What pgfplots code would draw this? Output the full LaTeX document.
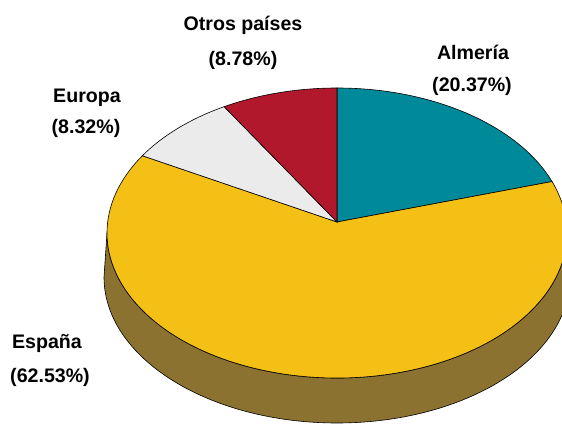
\documentclass[border=0pt]{standalone}
\usepackage{pgfplots}
\pgfplotsset{compat=1.18}
\usepackage{fontspec}
\setmainfont{Liberation Sans}
\definecolor{cAlm}{RGB}{0,137,153}
\definecolor{cEsp}{RGB}{244,192,21}
\definecolor{cEspSide}{RGB}{140,114,48}
\definecolor{cEur}{RGB}{235,235,235}
\definecolor{cOtr}{RGB}{178,24,43}
% boundary of a slice: true angle #1 -> parametric angle on the drawn (perspective) ellipse
\newcommand\bnd[2]{%
  \pgfmathsetmacro\tX{cos(#1)}\pgfmathsetmacro\tY{sin(#1)}%
  \pgfmathsetmacro\tD{1+0.0759*\tY}%
  \pgfmathsetmacro\tpx{337+229.3*\tX/\tD}%
  \pgfmathsetmacro\tpy{(222-127.3*\tY)/\tD}%
  \pgfmathsetmacro\tt{atan2((233-\tpy)/145,(\tpx-337)/230)}%
  \expandafter\xdef\csname #2t\endcsname{\tt}%
}
\begin{document}
\begin{tikzpicture}
% data (percent)
\def\vAlm{20.37}
\def\vEsp{62.53}
\def\vEur{8.32}
\def\vOtr{8.78}
\pgfmathsetmacro{\aA}{90}
\pgfmathsetmacro{\aB}{\aA-3.6*\vAlm}
\pgfmathsetmacro{\aC}{\aB-3.6*\vEsp}
\pgfmathsetmacro{\aD}{\aC-3.6*\vEur}
\bnd{\aA}{bA}\bnd{\aB}{bB}\bnd{\aC}{bC}\bnd{\aD}{bD}
\pgfmathsetmacro{\eB}{ifthenelse(\bBt>\bAt,\bBt-360,\bBt)}
\pgfmathsetmacro{\eC}{ifthenelse(\bCt>\bBt,\bCt-360,\bCt)}
\pgfmathsetmacro{\eD}{ifthenelse(\bDt>\bCt,\bDt-360,\bDt)}
\pgfmathsetmacro{\eA}{ifthenelse(\bAt>\bDt,\bAt-360,\bAt)}
\def\cx{337}\def\cy{192}\def\ax{337}\def\ay{203}
\def\rx{230}\def\ry{145}\def\dep{44}
\def\brx{233}\def\bry{146}
\pgfmathsetmacro{\pAx}{\cx+\rx*cos(\bAt)}\pgfmathsetmacro{\pAy}{\cy+\ry*sin(\bAt)}
\pgfmathsetmacro{\pBx}{\cx+\rx*cos(\bBt)}\pgfmathsetmacro{\pBy}{\cy+\ry*sin(\bBt)}
\pgfmathsetmacro{\pCx}{\cx+\rx*cos(\bCt)}\pgfmathsetmacro{\pCy}{\cy+\ry*sin(\bCt)}
\pgfmathsetmacro{\pDx}{\cx+\rx*cos(\bDt)}\pgfmathsetmacro{\pDy}{\cy+\ry*sin(\bDt)}
\clip (0,0) rectangle (562pt,425pt);
\begin{axis}[x=1pt,y=1pt,xmin=0,xmax=562,ymin=0,ymax=425,hide axis,clip=false,anchor=origin,at={(0,0)}]
% side
\filldraw[fill=cEspSide,draw=black,line width=0.6pt]
  (axis cs:\cx-\rx,\cy) arc[start angle=180,end angle=360,x radius=\rx,y radius=\ry]
  -- (axis cs:\cx+\brx,\cy-\dep) arc[start angle=360,end angle=180,x radius=\brx,y radius=\bry] -- cycle;
% slices
\filldraw[fill=cAlm,draw=black,line width=0.6pt] (axis cs:\ax,\ay) -- (axis cs:\pAx,\pAy) arc[start angle=\bAt,end angle=\eB,x radius=\rx,y radius=\ry] -- cycle;
\filldraw[fill=cEsp,draw=black,line width=0.6pt] (axis cs:\ax,\ay) -- (axis cs:\pBx,\pBy) arc[start angle=\bBt,end angle=\eC,x radius=\rx,y radius=\ry] -- cycle;
\filldraw[fill=cEur,draw=black,line width=0.6pt] (axis cs:\ax,\ay) -- (axis cs:\pCx,\pCy) arc[start angle=\bCt,end angle=\eD,x radius=\rx,y radius=\ry] -- cycle;
\filldraw[fill=cOtr,draw=black,line width=0.6pt] (axis cs:\ax,\ay) -- (axis cs:\pDx,\pDy) arc[start angle=\bDt,end angle=\eA,x radius=\rx,y radius=\ry] -- cycle;
% labels
\begin{scope}[every node/.style={font=\fontsize{19.6}{23}\selectfont\bfseries,inner sep=0pt}]
\node at (axis cs:243,400) {Otros países};
\node at (axis cs:243,365) {(8.78\%)};
\node at (axis cs:473,373) {Almería};
\node at (axis cs:472,339) {(20.37\%)};
\node at (axis cs:87,327) {Europa};
\node at (axis cs:86,297) {(8.32\%)};
\node at (axis cs:47,82) {España};
\node at (axis cs:50,48) {(62.53\%)};
\end{scope}
\end{axis}
\end{tikzpicture}
\end{document}
